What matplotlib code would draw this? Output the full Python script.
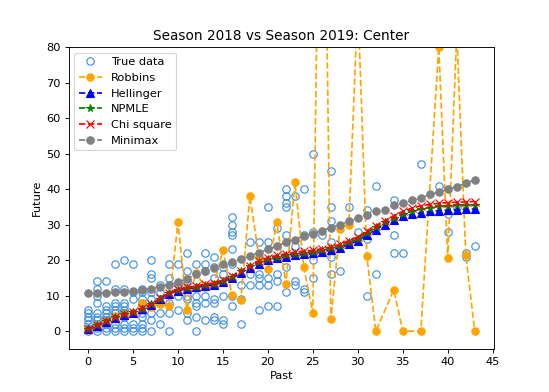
import matplotlib
matplotlib.use("Agg")
import matplotlib.pyplot as plt
import numpy as np

# True data: future values observed for each past value
true_data = {
    0: [0, 1, 2, 3, 4, 5, 6],
    1: [0, 1, 2, 3, 4, 5, 8, 10, 12, 14],
    2: [0, 1, 2, 3, 4, 5, 6, 7, 14],
    3: [0, 1, 2, 4, 5, 6, 7, 8, 12, 19],
    4: [0, 1, 2, 4, 5, 6, 7, 8, 12, 20],
    5: [0, 1, 2, 9, 11, 19],
    6: [0, 1, 2, 4, 5, 7, 8, 9, 11, 12],
    7: [0, 3, 5, 9, 11, 15, 16, 20],
    8: [2, 5, 8, 11, 13],
    9: [0, 5, 8, 15, 19],
    10: [6, 10, 13, 19],
    11: [3, 5, 9, 10, 14, 17, 22],
    12: [0, 4, 7, 8, 10, 19],
    13: [3, 8, 10, 17, 19, 22],
    14: [3, 4, 8, 9, 15, 18, 21],
    15: [2, 3, 10, 16, 18],
    16: [7, 10, 19, 23, 27, 28, 30, 32],
    17: [2, 9, 13],
    18: [13, 16, 25],
    19: [6, 13, 15, 16, 25],
    20: [7, 13, 15, 25, 35],
    21: [7, 14, 16, 29],
    22: [11, 18, 27, 35, 36, 38, 40],
    23: [13, 14, 24, 38],
    24: [11, 12, 27, 40],
    25: [15, 20, 22, 28, 50],
    26: [27],
    27: [16, 21, 25, 31, 35, 45],
    28: [17],
    29: [35],
    30: [28],
    31: [10, 26, 34],
    32: [16, 41],
    34: [22, 27, 37],
    35: [22],
    37: [47],
    39: [41],
    40: [28, 33],
    41: [35],
    42: [21, 22],
    43: [24],
}

robbins_x = [0, 1, 2, 3, 4, 5, 6, 7, 8, 9, 10, 11, 12, 13, 14, 15, 16, 17, 18, 19,
             20, 21, 22, 23, 24, 25, 26, 27, 28, 29, 30, 31, 32, 34, 35, 37, 39, 40, 41, 42, 43]
robbins_y = [0.6, 1.6, 2.8, 4.2, 4.8, 5.0, 7.9, 6.8, 7.7, 7.1, 30.7, 6.0, 16.5, 12.4, 12.9,
             22.8, 10.2, 8.9, 38.0, 21.0, 17.6, 30.7, 13.2, 41.9, 18.0, 5.2, 189.0, 3.3,
             28.8, 30.0, 93.0, 21.2, 0.0, 11.6, 0.0, 0.0, 80.0, 20.5, 84.0, 21.4, 0.0]

grid_x = list(range(44))
hellinger = [0.5, 1.5, 2.7, 3.8, 4.6, 5.2, 6.2, 7.4, 9.0, 10.5, 11.4, 11.9, 12.3, 12.7, 13.1,
             13.8, 15.0, 16.4, 17.8, 19.0, 19.9, 20.5, 20.9, 21.3, 21.6, 21.9, 22.3, 22.8,
             23.4, 24.4, 25.4, 27.0, 28.6, 30.0, 31.3, 32.3, 32.9, 33.3, 33.7, 33.9, 34.1,
             34.2, 34.3, 34.4]
npmle = [0.6, 1.6, 2.8, 3.9, 4.7, 5.3, 6.3, 7.5, 9.1, 10.7, 11.6, 12.1, 12.5, 13.0, 13.4,
         14.1, 15.3, 16.8, 18.2, 19.4, 20.4, 21.0, 21.4, 21.8, 22.1, 22.4, 22.8, 23.3,
         23.9, 25.0, 26.0, 27.7, 29.2, 30.6, 31.9, 33.0, 33.8, 34.4, 34.8, 35.1, 35.3,
         35.4, 35.5, 35.6]
chi_square = [0.7, 1.7, 2.9, 4.0, 4.8, 5.4, 6.4, 7.6, 9.2, 10.8, 11.8, 12.3, 12.7, 13.2, 13.6,
              14.3, 15.5, 17.0, 18.4, 19.7, 20.7, 21.3, 21.8, 22.2, 22.5, 22.8, 23.2, 23.7,
              24.4, 25.5, 26.5, 28.2, 29.7, 31.1, 32.5, 33.7, 34.6, 35.3, 35.7, 36.0, 36.2,
              36.3, 36.4, 36.5]
minimax = [10.6, 10.7, 10.8, 11.0, 11.1, 11.3, 11.6, 12.0, 12.5, 13.1, 13.8, 14.8, 16.0, 16.9,
           17.9, 18.8, 19.5, 20.2, 21.1, 22.1, 23.0, 23.9, 25.1, 25.8, 26.8, 27.4, 28.3, 29.1,
           30.0, 30.9, 31.8, 32.8, 33.7, 34.2, 35.4, 36.2, 36.8, 37.5, 38.5, 39.1, 39.9, 40.7,
           41.6, 42.6]

tx = [k for k, vals in true_data.items() for _ in vals]
ty = [v for vals in true_data.values() for v in vals]

DPI = 82
fig, ax = plt.subplots(figsize=(549 / DPI, 392 / DPI), dpi=DPI)
ax.plot(tx, ty, 'o', mfc='none', mec='#3a8ee6', ms=6.5, mew=1.0, ls='none', label='True data')
ax.plot(robbins_x, robbins_y, 'o--', color='orange', ms=6.5, label='Robbins')
ax.plot(grid_x, hellinger, '^--', color='blue', ms=6.5, label='Hellinger')
ax.plot(grid_x, npmle, '*--', color='green', ms=6.5, label='NPMLE')
ax.plot(grid_x, chi_square, 'x--', color='red', ms=6.5, label='Chi square')
ax.plot(grid_x, minimax, 'o--', color='grey', ms=6.5, label='Minimax')

ax.set_ylim(-5, 80)
ax.set_xticks(range(0, 46, 5))
ax.set_title('Season 2018 vs Season 2019: Center')
ax.set_xlabel('Past')
ax.set_ylabel('Future')
ax.legend(loc='upper left')
fig.savefig('out.png', dpi=DPI)
